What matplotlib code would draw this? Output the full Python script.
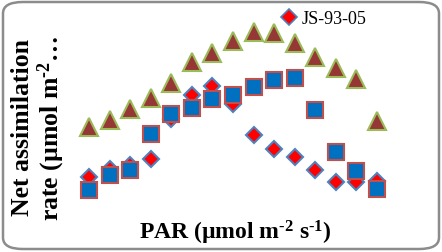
import matplotlib
matplotlib.use("Agg")
import matplotlib.pyplot as plt
from matplotlib.patches import FancyBboxPatch
from matplotlib.lines import Line2D

plt.rcParams['font.family'] = ['Liberation Serif', 'DejaVu Serif']
plt.rcParams['mathtext.default'] = 'regular'

par_index = list(range(1, 16))
series_triangle = [7.2, 7.9, 9.0, 10.1, 11.6, 13.7, 14.6, 15.8, 16.7, 16.6, 15.6, 14.2, 13.1, 12.0, 7.8]
series_diamond = [2.2, 3.0, 3.4, 4.0, 8.0, 10.4, 11.3, 9.5, 6.4, 5.0, 4.2, 2.9, 1.7, 1.7, 1.8]
series_square = [0.9, 2.4, 2.9, 6.5, 8.5, 9.1, 10.0, 10.4, 11.2, 11.9, 12.1, 8.9, 4.7, 2.8, 1.0]
legend_label = "JS-93-05"

W, H = 442, 253
fig = plt.figure(figsize=(W / 100, H / 100), dpi=100)

# rounded border
border = FancyBboxPatch((3 / W, 3 / H), (W - 6) / W, (H - 6) / H,
                        boxstyle="round,pad=0,rounding_size=0.045",
                        transform=fig.transFigure, facecolor='none',
                        edgecolor='#8c8c8c', linewidth=1.8, zorder=0)
fig.patches.append(border)

ax = fig.add_axes([68.4 / W, (H - 200) / H, 329.2 / W, 180 / H])
ax.set_xlim(0, 16)
ax.set_ylim(0, 18)
ax.axis('off')

ax.plot(par_index, series_triangle, linestyle='none', marker='^', markersize=13,
        markerfacecolor='#953735', markeredgecolor='#9BBB59', markeredgewidth=1.5, zorder=2)
ax.plot(par_index, series_diamond, linestyle='none', marker='D', markersize=8.5,
        markerfacecolor='#FF0000', markeredgecolor='#4F81BD', markeredgewidth=1.5, zorder=3)
ax.plot(par_index, series_square, linestyle='none', marker='s', markersize=11,
        markerfacecolor='#0070C0', markeredgecolor='#C0504D', markeredgewidth=1.5, zorder=4)

handle = Line2D([], [], linestyle='none', marker='D', markersize=8.5,
                markerfacecolor='#FF0000', markeredgecolor='#4F81BD', markeredgewidth=1.2)
fig.legend([handle], [legend_label], loc='center left',
           bbox_to_anchor=(273 / W, 1 - 20 / H), frameon=False,
           fontsize=13, handlelength=0.8, handletextpad=0.3, borderpad=0)

fig.text(235 / W, 1 - 233 / H, 'PAR (µmol m$^{\u2010' + '2}$ s$^{\u2010' + '1}$)', ha='center', va='center',
         fontsize=17, fontweight='bold')
fig.text(39 / W, 1 - 128 / H, 'Net assimilation\nrate (µmol m$^{\u2010' + '2}$…', ha='center', va='center',
         rotation=90, fontsize=18.5, fontweight='bold', linespacing=1.05)

fig.savefig('out.png', dpi=100)
